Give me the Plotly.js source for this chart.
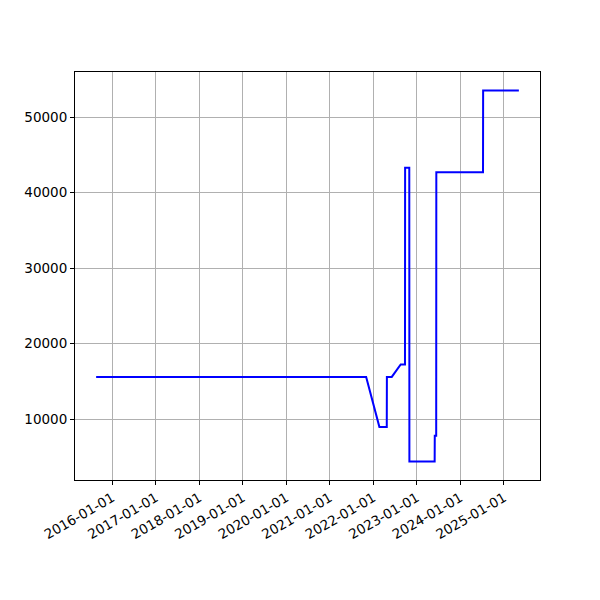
<!DOCTYPE html>
<html>
<head>
<meta charset="utf-8">
<script src="https://cdn.plot.ly/plotly-3.0.1.min.js"></script>
<style>html,body{margin:0;padding:0;background:#fff;}#chart{width:600px;height:600px;}</style>
</head>
<body>
<div id="chart"></div>
<script>
const dates = [
  "2015-08-18", "2021-11-01", "2022-02-20", "2022-04-23", "2022-04-24",
  "2022-06-04", "2022-08-18", "2022-09-23", "2022-09-24", "2022-10-29",
  "2022-10-30", "2023-05-30", "2023-05-31", "2023-06-12", "2023-06-13",
  "2024-07-09", "2024-07-10", "2025-05-06"
];
const values = [
  15580, 15580, 8980, 8980, 15600,
  15600, 17250, 17250, 43300, 43300,
  4400, 4400, 7800, 7800, 42700,
  42700, 53540, 53540
];
const tickYears = [2016, 2017, 2018, 2019, 2020, 2021, 2022, 2023, 2024, 2025];
const tickLabels = tickYears.map(y => y + "-01-01");
const yTicks = [10000, 20000, 30000, 40000, 50000];

const t = dates.map(d => Date.parse(d + "T00:00:00Z"));
const tMin = Math.min(...t), tMax = Math.max(...t);
const tPad = (tMax - tMin) * 0.05;
const vMin = Math.min(...values), vMax = Math.max(...values);
const vPad = (vMax - vMin) * 0.05;
const iso = ms => new Date(ms).toISOString().slice(0, 19).replace("T", " ");

const font = {family: "DejaVu Sans", size: 13.5, color: "#000"};

Plotly.newPlot("chart", [{
  x: dates, y: values, type: "scatter", mode: "lines",
  line: {color: "#0000ff", width: 2}
}], {
  width: 600, height: 600,
  margin: {l: 75, r: 60, t: 72, b: 120},
  paper_bgcolor: "#fff", plot_bgcolor: "#fff",
  showlegend: false,
  font: font,
  xaxis: {
    type: "date",
    range: [iso(tMin - tPad), iso(tMax + tPad)],
    tickmode: "array",
    tickvals: tickYears.map(y => y + "-01-01"),
    ticktext: tickLabels,
    tickangle: -30,
    ticks: "outside", ticklen: 4, tickcolor: "#000", tickwidth: 1,
    showgrid: true, gridcolor: "#b0b0b0", gridwidth: 1,
    showline: true, mirror: true, linecolor: "#000", linewidth: 1,
    zeroline: false, tickfont: font
  },
  yaxis: {
    range: [vMin - vPad, vMax + vPad],
    tickmode: "array",
    tickvals: yTicks,
    ticktext: yTicks.map(String),
    ticks: "outside", ticklen: 4, tickcolor: "#000", tickwidth: 1,
    showgrid: true, gridcolor: "#b0b0b0", gridwidth: 1,
    showline: true, mirror: true, linecolor: "#000", linewidth: 1,
    zeroline: false, tickfont: font
  }
}, {staticPlot: true});
</script>
</body>
</html>
